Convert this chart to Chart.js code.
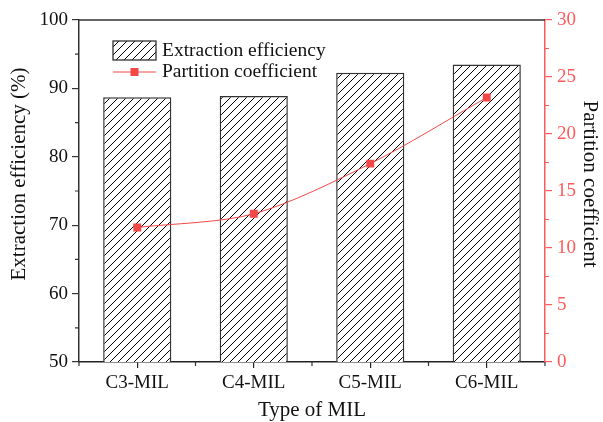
<!DOCTYPE html>
<html>
<head>
<meta charset="utf-8">
<script src="https://cdn.jsdelivr.net/npm/chart.js@4.4.0/dist/chart.umd.min.js"></script>
<style>
html,body{margin:0;padding:0;background:#fff;}
#wrap{width:603px;height:422px;}
</style>
</head>
<body>
<div id="wrap"><canvas id="c" width="603" height="422"></canvas></div>
<script>
const categories = ['C3-MIL', 'C4-MIL', 'C5-MIL', 'C6-MIL'];
const efficiency = [88.7, 88.9, 92.3, 93.5];
const partition = [11.8, 13.0, 17.4, 23.2];
const leftTicks = [50, 60, 70, 80, 90, 100];
const rightTicks = [0, 5, 10, 15, 20, 25, 30];
const xTitle = 'Type of MIL';
const yTitle = 'Extraction efficiency (%)';
const y1Title = 'Partition coefficient';

const FONT = 'Liberation Serif';
const RED = '#f24848';
const RED_AXIS = '#ff5a5a';

function hatch() {
  const c = document.createElement('canvas');
  c.width = 8; c.height = 8;
  const g = c.getContext('2d');
  g.fillStyle = '#fff';
  g.fillRect(0, 0, 8, 8);
  g.strokeStyle = '#000';
  g.lineWidth = 1;
  g.beginPath();
  g.moveTo(-1, 9); g.lineTo(9, -1);
  g.moveTo(-1, 1); g.lineTo(1, -1);
  g.moveTo(7, 9); g.lineTo(9, 7);
  g.stroke();
  return document.getElementById('c').getContext('2d').createPattern(c, 'repeat');
}

const extras = {
  id: 'extras',
  afterDraw(chart) {
    const ctx = chart.ctx;
    const a = chart.chartArea;
    const x = chart.scales.x, y = chart.scales.y, y1 = chart.scales.y1;
    ctx.save();
    ctx.strokeStyle = '#333';
    ctx.lineWidth = 1.5;
    ctx.beginPath();
    ctx.moveTo(a.left, a.top); ctx.lineTo(a.right, a.top);
    ctx.stroke();
    ctx.lineWidth = 1.2;
    ctx.beginPath();
    for (let v = 55; v < 100; v += 10) {
      const py = y.getPixelForValue(v);
      ctx.moveTo(a.left, py); ctx.lineTo(a.left - 4, py);
    }
    const step = x.getPixelForValue(1) - x.getPixelForValue(0);
    for (let i = 0; i <= categories.length; i++) {
      const px = x.getPixelForValue(0) - step / 2 + i * step;
      ctx.moveTo(px, a.bottom); ctx.lineTo(px, a.bottom + 4);
    }
    ctx.stroke();
    ctx.strokeStyle = RED_AXIS;
    ctx.beginPath();
    for (let v = 2.5; v < 30; v += 5) {
      const py = y1.getPixelForValue(v);
      ctx.moveTo(a.right, py); ctx.lineTo(a.right + 4, py);
    }
    ctx.stroke();

    ctx.fillStyle = '#111';
    ctx.font = '21px "' + FONT + '"';
    ctx.textAlign = 'center';
    ctx.textBaseline = 'middle';
    ctx.fillText(xTitle, (a.left + a.right) / 2, 410);
    ctx.save();
    ctx.translate(19, 174);
    ctx.rotate(-Math.PI / 2);
    ctx.fillText(yTitle, 0, 0);
    ctx.restore();
    ctx.save();
    ctx.translate(590, 184);
    ctx.rotate(Math.PI / 2);
    ctx.fillText(y1Title, 0, 0);
    ctx.restore();

    const ds = chart.data.datasets;
    const lx = 113, lw = 43;
    ctx.font = '19.5px "' + FONT + '"';
    ctx.textBaseline = 'middle';
    ctx.textAlign = 'left';
    ctx.fillStyle = hatch();
    ctx.fillRect(lx, 41, lw, 19);
    ctx.strokeStyle = '#333';
    ctx.lineWidth = 1.3;
    ctx.strokeRect(lx, 41, lw, 19);
    ctx.fillStyle = '#111';
    ctx.fillText(ds[1].label, 162, 51);
    ctx.strokeStyle = RED;
    ctx.lineWidth = 1;
    ctx.beginPath();
    ctx.moveTo(lx, 72); ctx.lineTo(lx + lw, 72);
    ctx.stroke();
    ctx.fillStyle = RED;
    ctx.fillRect(lx + lw / 2 - 4, 68, 8, 8);
    ctx.fillStyle = '#111';
    ctx.fillText(ds[0].label, 162, 72);
    ctx.restore();
  }
};

new Chart(document.getElementById('c'), {
  data: {
    labels: categories,
    datasets: [
      {
        type: 'line',
        label: 'Partition coefficient',
        data: partition,
        yAxisID: 'y1',
        borderColor: RED,
        borderWidth: 1,
        backgroundColor: RED,
        pointStyle: 'rect',
        pointRadius: 5.6,
        pointBorderWidth: 0,
        tension: 0.3,
        order: 0
      },
      {
        type: 'bar',
        label: 'Extraction efficiency',
        data: efficiency,
        yAxisID: 'y',
        backgroundColor: hatch(),
        borderColor: '#333',
        borderWidth: 1.5,
        barPercentage: 0.585,
        categoryPercentage: 1,
        order: 1
      }
    ]
  },
  options: {
    responsive: false,
    animation: false,
    devicePixelRatio: 1,
    layout: { padding: { top: 20, left: 0, right: 0, bottom: 0 } },
    plugins: { legend: { display: false }, tooltip: { enabled: false } },
    scales: {
      x: {
        offset: true,
        afterFit(s) { s.height = 60; },
        border: { display: true, color: '#222', width: 1.5 },
        grid: { drawOnChartArea: false, drawTicks: true, tickLength: 6, color: '#222', lineWidth: 1.2, offset: false },
        ticks: { color: '#111', padding: 4, font: { family: FONT, size: 19 } },
        title: { display: false }
      },
      y: {
        position: 'left',
        min: 50, max: 100,
        afterFit(s) { s.width = 79; },
        afterBuildTicks(s) { s.ticks = leftTicks.map(v => ({ value: v })); },
        border: { display: true, color: '#333', width: 1.5 },
        grid: { drawOnChartArea: false, drawTicks: true, tickLength: 7, color: '#333', lineWidth: 1.2 },
        ticks: { color: '#111', padding: 4, font: { family: FONT, size: 19 } },
        title: { display: false }
      },
      y1: {
        position: 'right',
        min: 0, max: 30,
        afterFit(s) { s.width = 58; },
        afterBuildTicks(s) { s.ticks = rightTicks.map(v => ({ value: v })); },
        border: { display: true, color: RED_AXIS, width: 1.5 },
        grid: { drawOnChartArea: false, drawTicks: true, tickLength: 7, color: RED_AXIS, lineWidth: 1.2 },
        ticks: { color: RED_AXIS, padding: 5, font: { family: FONT, size: 19 } },
        title: { display: false }
      }
    }
  },
  plugins: [extras]
});
</script>
</body>
</html>
